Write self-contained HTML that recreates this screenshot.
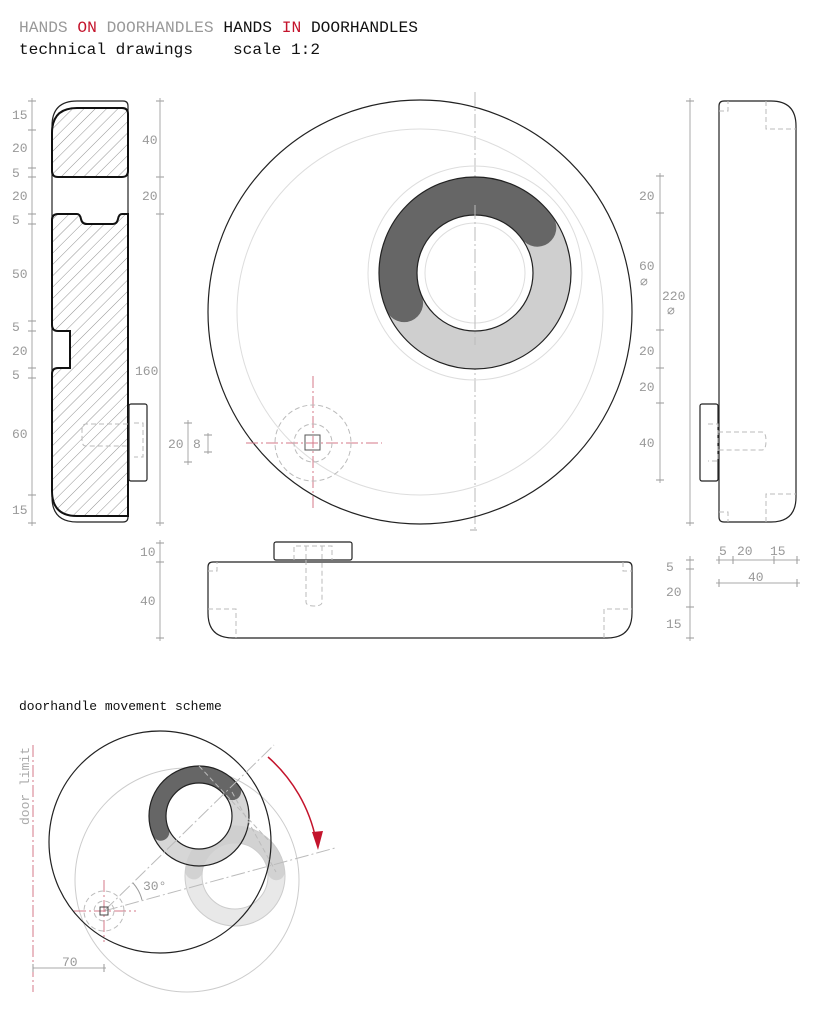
<!DOCTYPE html>
<html><head><meta charset="utf-8"><style>
html,body{margin:0;padding:0;background:#fff;}
svg{display:block;}
text{font-family:"Liberation Mono",monospace;}
.d{fill:#999;font-size:13px;}
.dl{stroke:#aaa;stroke-width:1;fill:none;}
.o{stroke:#222;stroke-width:1.2;fill:none;}
.dash{stroke:#bbb;stroke-width:1;fill:none;stroke-dasharray:5 3;}
.cl{stroke:#bbb;stroke-width:1;fill:none;stroke-dasharray:14 3 2 3;}
.rl{stroke:#d47a8a;stroke-width:1;fill:none;stroke-dasharray:12 3 2 3;}
</style></head><body>
<svg width="818" height="1009" viewBox="0 0 818 1009" xmlns="http://www.w3.org/2000/svg">
<defs>
<pattern id="h" patternUnits="userSpaceOnUse" width="8" height="8" patternTransform="rotate(45)">
<line x1="0" y1="0" x2="0" y2="8" stroke="#777" stroke-width="0.8"/>
</pattern>
</defs>
<!-- header -->
<text x="19" y="32" font-size="16" fill="#999" textLength="399" lengthAdjust="spacingAndGlyphs">HANDS <tspan fill="#c4142c">ON</tspan> DOORHANDLES <tspan fill="#111">HANDS </tspan><tspan fill="#c4142c">IN</tspan><tspan fill="#111"> DOORHANDLES</tspan></text>
<text x="19" y="54" font-size="16" fill="#111" textLength="174" lengthAdjust="spacingAndGlyphs">technical drawings</text>
<text x="233" y="54" font-size="16" fill="#111" textLength="87" lengthAdjust="spacingAndGlyphs">scale 1:2</text>

<!-- LEFT SECTION -->
<path class="o" d="M77 101 H123 Q128 101 128 106 V517 Q128 522 123 522 H77 Q52 522 52 497 V126 Q52 101 77 101 Z" stroke-width="1"/>
<path d="M77 108 H122 Q128 108 128 114 V171 Q128 177 122 177 H58 Q52 177 52 171 V133 Q52 108 77 108 Z" fill="url(#h)" stroke="#111" stroke-width="2"/>
<path d="M58 214 H77 Q80 214 81 219 Q82 224 87 224 H113 Q117 224 118 219 Q119 214 122 214 H128 V516 H77 Q52 516 52 491 V374 Q52 368 58 368 H70 V331 H58 Q52 331 52 325 V220 Q52 214 58 214 Z" fill="url(#h)" stroke="#111" stroke-width="2"/>
<rect x="129" y="404" width="18" height="77" rx="2" class="o"/>
<path class="dash" d="M128 424 H86 Q82 424 82 430 V440 Q82 446 86 446 H128 M134 423 H143 V457 H134"/>
<!-- left dims -->
<line class="dl" x1="32" y1="98" x2="32" y2="526"/>
<g stroke="#999" stroke-width="1">
<path d="M28 101h8M28 130h8M28 168h8M28 177h8M28 214h8M28 224h8M28 321h8M28 331h8M28 368h8M28 378h8M28 495h8M28 523h8"/>
<path d="M156 101h8M156 177h8M156 214h8M156 523h8"/>
</g>
<g class="d">
<text x="12" y="119">15</text><text x="12" y="152">20</text><text x="12" y="177">5</text><text x="12" y="200">20</text><text x="12" y="224">5</text><text x="12" y="278">50</text><text x="12" y="331">5</text><text x="12" y="355">20</text><text x="12" y="379">5</text><text x="12" y="438">60</text><text x="12" y="514">15</text>
<text x="142" y="144">40</text><text x="142" y="200">20</text><text x="135" y="375">160</text>
<text x="168" y="448">20</text><text x="193" y="448">8</text>
</g>
<line class="dl" x1="160" y1="98" x2="160" y2="526"/>
<line class="dl" x1="188" y1="420" x2="188" y2="465"/>
<line class="dl" x1="208" y1="433" x2="208" y2="454"/>
<path stroke="#999" d="M184 423h8M184 462h8M204 435h8M204 452h8"/>

<!-- MAIN FRONT VIEW -->
<line class="cl" x1="475" y1="92" x2="475" y2="530"/>
<path class="dl" d="M470 530h7"/>
<circle cx="420" cy="312" r="183" fill="none" stroke="#ddd" stroke-width="1"/>
<circle cx="420" cy="312" r="212" class="o"/>
<circle cx="475" cy="273" r="107" fill="none" stroke="#ddd"/>
<path d="M475 177 A96 96 0 1 1 474.9 177 Z M475 215 A58 58 0 1 0 475.1 215 Z" fill="#cfcfcf" fill-rule="evenodd"/>
<path d="M404.1 303.1 A77 77 0 0 1 537.3 227.7" fill="none" stroke="#666" stroke-width="38" stroke-linecap="round"/>
<circle cx="475" cy="273" r="96" class="o"/>
<circle cx="475" cy="273" r="58" fill="#fff" stroke="#222" stroke-width="1.2"/>
<circle cx="475" cy="273" r="50" fill="none" stroke="#ddd"/>
<line class="cl" x1="475" y1="205" x2="475" y2="345"/>
<!-- small knob -->
<line class="rl" x1="246" y1="443" x2="382" y2="443"/>
<line class="rl" x1="313" y1="376" x2="313" y2="511"/>
<circle cx="313" cy="443" r="38" class="dash" stroke="#aaa"/>
<circle cx="313" cy="443" r="19" class="dash" stroke="#aaa"/>
<rect x="305" y="435" width="15" height="15" fill="none" stroke="#555"/>

<!-- RIGHT SIDE VIEW -->
<path class="o" d="M724 101 H771 Q796 101 796 126 V497 Q796 522 771 522 H724 Q719 522 719 517 V106 Q719 101 724 101 Z"/>
<path class="dash" d="M719 111 H728 V101 M766 101 V129 H796 M719 512 H728 V522 M766 522 V494 H796"/>
<rect x="700" y="404" width="18" height="77" rx="2" class="o"/>
<path class="dash" d="M718 432 H762 Q766 432 766 441 Q766 450 762 450 H718 M708 424 H718 V461 H708"/>
<line class="dl" x1="690" y1="98" x2="690" y2="526"/>
<line class="dl" x1="660" y1="173" x2="660" y2="483"/>
<path stroke="#999" d="M686 101h8M686 523h8M656 176h8M656 213h8M656 330h8M656 368h8M656 403h8M656 480h8"/>
<g class="d">
<text x="639" y="200">20</text><text x="639" y="270">60</text><text x="640" y="286">∅</text>
<text x="662" y="300">220</text><text x="667" y="315">∅</text>
<text x="639" y="355">20</text><text x="639" y="391">20</text><text x="639" y="447">40</text>
<text x="719" y="555">5</text><text x="737" y="555">20</text><text x="770" y="555">15</text>
<text x="748" y="581">40</text>
<text x="666" y="571">5</text><text x="666" y="596">20</text><text x="666" y="628">15</text>
<text x="140" y="556">10</text><text x="140" y="605">40</text>
</g>
<line class="dl" x1="716" y1="560" x2="800" y2="560"/>
<line class="dl" x1="716" y1="583" x2="800" y2="583"/>
<path stroke="#999" d="M719 556v8M733 556v8M774 556v8M797 556v8M719 579v8M797 579v8"/>
<line class="dl" x1="690" y1="556" x2="690" y2="641"/>
<path stroke="#999" d="M686 560h8M686 569h8M686 607h8M686 638h8"/>
<line class="dl" x1="160" y1="540" x2="160" y2="641"/>
<path stroke="#999" d="M156 543h8M156 562h8M156 638h8"/>

<!-- BOTTOM VIEW -->
<path class="o" d="M213 562 H627 Q632 562 632 567 V613 Q632 638 607 638 H233 Q208 638 208 613 V567 Q208 562 213 562 Z"/>
<path class="dash" d="M208 571 H217 V562 M623 562 V571 H632 M208 609 H236 V638 M604 638 V609 H632"/>
<rect x="274" y="542" width="78" height="18" rx="2" class="o"/>
<path class="dash" d="M306 560 V602 Q306 606 314 606 Q322 606 322 602 V560 M294 560 V546 H332 V560 M306 546 V560 M322 546 V560"/>

<!-- MOVEMENT SCHEME -->
<text x="19" y="710" font-size="13" fill="#111">doorhandle movement scheme</text>
<line class="rl" x1="33" y1="745" x2="33" y2="992"/>
<text transform="translate(29,825) rotate(-90)" font-size="13" fill="#aaa">door limit</text>
<circle cx="187" cy="880" r="112" fill="none" stroke="#ccc"/>
<path d="M235 826 A50 50 0 1 1 234.9 826 Z M235 843 A33 33 0 1 0 235.1 843 Z" fill="#e6e6e6" fill-rule="evenodd" opacity="0.9"/>
<path d="M193.8 870.9 A41.5 41.5 0 0 1 276.3 871.7" fill="none" stroke="#d2d2d2" stroke-width="17" stroke-linecap="round"/>
<circle cx="235" cy="876" r="50" fill="none" stroke="#ccc"/>
<circle cx="235" cy="876" r="33" fill="none" stroke="#ccc"/>
<path d="M199 766 A50 50 0 1 1 198.9 766 Z M199 783 A33 33 0 1 0 199.1 783 Z" fill="#cfcfcf" fill-opacity="0.85" fill-rule="evenodd"/>
<path d="M160.8 832.2 A41.5 41.5 0 0 1 232.6 791.6" fill="none" stroke="#666" stroke-width="17" stroke-linecap="round"/>
<circle cx="199" cy="816" r="50" class="o"/>
<circle cx="199" cy="816" r="33" fill="#fff" stroke="#222" stroke-width="1.2"/>
<circle cx="160" cy="842" r="111" class="o"/>
<line class="cl" x1="104" y1="911" x2="274" y2="745"/>
<line class="cl" x1="104" y1="911" x2="335" y2="848"/>
<path class="dash" d="M199 766 L270 842 M232 792 L276 872"/>
<path d="M133 883 A40 40 0 0 1 142 900" fill="none" stroke="#999"/>
<text x="143" y="890" class="d" font-size="14">30°</text>
<path d="M268 757 A150 150 0 0 1 316 840" fill="none" stroke="#c4142c" stroke-width="1.5"/>
<path d="M312 832 L318 850 L323 831 Z" fill="#c4142c"/>
<line class="rl" x1="74" y1="911" x2="136" y2="911"/>
<line class="rl" x1="104" y1="880" x2="104" y2="942"/>
<circle cx="104" cy="911" r="20" class="dash" stroke="#d47a8a"/>
<circle cx="104" cy="911" r="10" class="dash" stroke="#d47a8a"/>
<rect x="100" y="907" width="8" height="8" fill="none" stroke="#444"/>
<line class="dl" x1="33" y1="968" x2="106" y2="968"/>
<path stroke="#999" d="M33 964v8M104 964v8"/>
<text x="62" y="966" class="d" font-size="14">70</text>
</svg>
</body></html>
